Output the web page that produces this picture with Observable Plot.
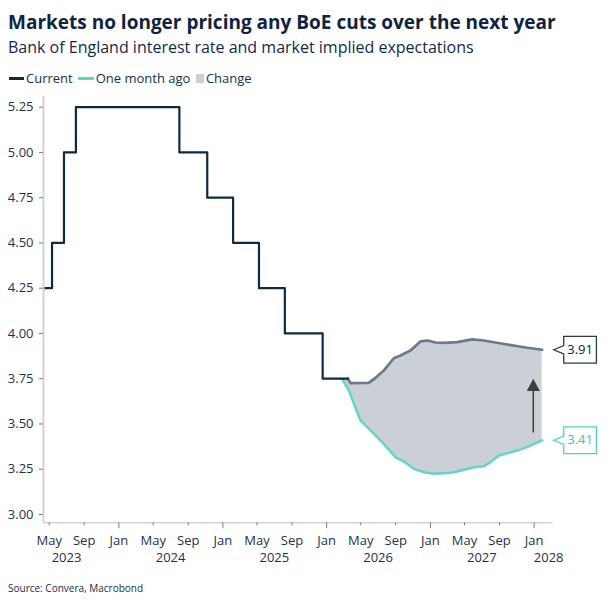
<!DOCTYPE html>
<html>
<head>
<meta charset="utf-8">
<script src="https://cdn.jsdelivr.net/npm/d3@7"></script>
<script src="https://cdn.jsdelivr.net/npm/@observablehq/plot@0.6"></script>
<style>
  body { margin: 0; background: #fff; font-family: "Open Sans", sans-serif; }
  #wrap { position: relative; width: 606px; height: 607px; overflow: hidden; background: #fff; }
  #wrap svg { position: absolute; left: 0; top: 0; }
  .txt { position: absolute; left: 8px; line-height: 1; white-space: nowrap; color: #0f2342; z-index: 2; }
  .title { top: 13px; font-size: 19px; font-weight: 700; }
  .subtitle { top: 38.5px; font-size: 16px; color: #13294a; }
  .legend { top: 72px; left: 8.5px; font-size: 13px; display: flex; align-items: center; color: #1a2b4c; }
  .legend .item { display: flex; align-items: center; margin-right: 5.5px; }
  .legend .line { width: 15.5px; height: 2.5px; margin-right: 2px; }
  .legend .sq { width: 8.5px; height: 8.5px; margin-right: 1.5px; }
  .source { top: 582.5px; font-size: 10px; color: #1a2b4c; }
</style>
</head>
<body>
<div id="wrap">
  <div class="txt title">Markets no longer pricing any BoE cuts over the next year</div>
  <div class="txt subtitle">Bank of England interest rate and market implied expectations</div>
  <div class="txt legend">
    <span class="item"><span class="line" style="background:#0d2a3e"></span>Current</span>
    <span class="item"><span class="line" style="background:#5fd6c6"></span>One month ago</span>
    <span class="item"><span class="sq" style="background:#cbcfd6"></span>Change</span>
  </div>
  <div class="txt source">Source: Convera, Macrobond</div>
</div>
<script>
// Bank Rate decisions (step changes) up to today
const policyDates = ["2023-04-12", "2023-05-11", "2023-06-22", "2023-08-03", "2024-08-01", "2024-11-07",
                     "2025-02-06", "2025-05-08", "2025-08-07", "2025-12-18", "2026-03-17"];
const policyRates = [4.25, 4.50, 5.00, 5.25, 5.00, 4.75, 4.50, 4.25, 4.00, 3.75, 3.75];

// Market-implied path, current pricing
const currentDates = ["2026-03-17", "2026-03-26", "2026-05-29", "2026-06-22", "2026-07-21", "2026-08-25",
                      "2026-09-18", "2026-10-23", "2026-11-27", "2026-12-21", "2027-01-19", "2027-02-21",
                      "2027-04-05", "2027-05-28", "2027-07-07", "2027-09-28", "2027-11-26", "2028-01-29"];
const currentRates = [3.75, 3.726, 3.727, 3.755, 3.795, 3.863, 3.878, 3.906, 3.956, 3.961, 3.950, 3.948,
                      3.952, 3.967, 3.961, 3.939, 3.924, 3.91];

// Market-implied path, one month ago
const monthAgoDates = ["2026-02-24", "2026-03-20", "2026-04-07", "2026-04-30", "2026-06-16", "2026-07-21",
                       "2026-08-31", "2026-09-24", "2026-11-04", "2026-12-09", "2027-01-13", "2027-03-13",
                       "2027-04-05", "2027-06-03", "2027-07-08", "2027-07-31", "2027-08-30", "2027-11-02",
                       "2027-12-07", "2028-01-29"];
const monthAgoRates = [3.75, 3.685, 3.611, 3.52, 3.446, 3.39, 3.316, 3.298, 3.252, 3.233, 3.225, 3.23,
                       3.237, 3.261, 3.267, 3.289, 3.326, 3.353, 3.372, 3.41];

// Axis ticks and labels
const yTicks = [3.00, 3.25, 3.50, 3.75, 4.00, 4.25, 4.50, 4.75, 5.00, 5.25];
const yearLabels = ["2023", "2024", "2025", "2026", "2027", "2028"];
const yearLabelDates = ["2023-07-01", "2024-07-01", "2025-07-01", "2026-07-01", "2027-07-01", "2028-02-21"];

// Arrow showing the repricing
const arrowDate = "2027-12-29";
const arrowFrom = 3.45;
const arrowTo = 3.75;

const xStart = "2023-04-11", xEnd = "2028-03-08";
const yMin = 2.954, yMax = 5.309;

const parse = d3.utcParse("%Y-%m-%d");
const toSeries = (dates, rates) => dates.map((d, i) => ({date: parse(d), rate: rates[i]}));
const policy = toSeries(policyDates, policyRates);
const current = toSeries(currentDates, currentRates);
const monthAgo = toSeries(monthAgoDates, monthAgoRates);

function interp(series, t) {
  const i = d3.bisector(d => d.date).right(series, t);
  if (i <= 0) return series[0].rate;
  if (i >= series.length) return series[series.length - 1].rate;
  const a = series[i - 1], b = series[i];
  return a.rate + (b.rate - a.rate) * (t - a.date) / (b.date - a.date);
}

// Shaded band between the two curves; the upper edge is the flat policy rate until current pricing begins
const upperEdge = [{date: monthAgo[0].date, rate: policy[policy.length - 1].rate}, ...current];
const bandTimes = Array.from(new Set([...monthAgo, ...current].map(d => +d.date)))
  .filter(t => t >= +monthAgo[0].date)
  .sort((a, b) => a - b);
const band = bandTimes.map(t => {
  const date = new Date(t);
  return {date, low: interp(monthAgo, date), high: interp(upperEdge, date)};
});

const lastCurrent = current[current.length - 1];
const lastMonthAgo = monthAgo[monthAgo.length - 1];
const callouts = [
  {date: lastCurrent.date, rate: lastCurrent.rate, stroke: "#2a3b4c", text: "#13233a"},
  {date: lastMonthAgo.date, rate: lastMonthAgo.rate, stroke: "#52d3c2", text: "#3cc6b4"}
];

// Label box with a pointer on its left side, anchored at the end of each curve
const calloutSymbol = {
  draw(ctx) {
    ctx.moveTo(11.6, 0);
    ctx.lineTo(21.6, -4.2);
    ctx.lineTo(21.6, -13.3);
    ctx.lineTo(54.3, -13.3);
    ctx.lineTo(54.3, 13.3);
    ctx.lineTo(21.6, 13.3);
    ctx.lineTo(21.6, 4.2);
    ctx.closePath();
  }
};
// Filled arrow head with its tip at the anchor
const arrowHead = {
  draw(ctx) {
    ctx.moveTo(0, 0);
    ctx.lineTo(6.6, 12.4);
    ctx.lineTo(-6.6, 12.4);
    ctx.closePath();
  }
};

const monthTicks = d3.utcMonth.every(4).range(parse("2023-04-12"), parse(xEnd));
const janTicks = monthTicks.filter(d => d.getUTCMonth() === 0);
const otherTicks = monthTicks.filter(d => d.getUTCMonth() !== 0);

const labelColor = "#1f2f50";
const tickColor = "#7a7a7a";
const axisLineColor = "#d3d3d3";

const chart = Plot.plot({
  width: 606,
  height: 607,
  marginLeft: 43,
  marginRight: 53.3,
  marginTop: 96,
  marginBottom: 84.7,
  style: {background: "transparent", fontFamily: "'Open Sans', sans-serif", fontSize: "13px", overflow: "visible"},
  x: {type: "utc", domain: [parse(xStart), parse(xEnd)], label: null},
  y: {domain: [yMin, yMax], label: null},
  marks: [
    Plot.areaY(band, {x: "date", y1: "low", y2: "high", fill: "#cbcfd6"}),
    Plot.line(monthAgo, {x: "date", y: "rate", stroke: "#5fd6c6", strokeWidth: 2.5}),
    Plot.line(current, {x: "date", y: "rate", stroke: "#6b7a89", strokeWidth: 2.7}),
    Plot.line(policy, {x: "date", y: "rate", curve: "step-after", stroke: "#0d2a3e", strokeWidth: 2.2}),
    Plot.ruleX([{date: parse(arrowDate)}], {x: "date", y1: arrowFrom, y2: arrowTo - 0.03, stroke: "#3f3f3f", strokeWidth: 1.5}),
    Plot.dot([{date: parse(arrowDate), rate: arrowTo}], {x: "date", y: "rate", symbol: arrowHead, fill: "#3f3f3f", stroke: "none"}),
    Plot.dot(callouts, {x: "date", y: "rate", symbol: calloutSymbol, fill: "white", stroke: d => d.stroke, strokeWidth: 1.3}),
    Plot.text(callouts, {x: "date", y: "rate", text: d => d3.format(".2f")(d.rate), fill: d => d.text, dx: 38, fontSize: 13}),
    Plot.ruleX([parse(xStart)], {stroke: axisLineColor, strokeWidth: 2}),
    Plot.ruleY([yMin], {stroke: axisLineColor, strokeWidth: 1.5}),
    Plot.axisY(yTicks, {tickSize: 4, tickPadding: 6, tickFormat: d3.format(".2f"), stroke: tickColor, fill: labelColor, label: null}),
    Plot.axisX(janTicks, {tickSize: 6, tickPadding: 6.8, tickFormat: d3.utcFormat("%b"), stroke: tickColor, fill: labelColor, label: null}),
    Plot.axisX(otherTicks, {tickSize: 3, tickPadding: 9.8, tickFormat: d3.utcFormat("%b"), stroke: tickColor, fill: labelColor, label: null}),
    Plot.text(yearLabels.map((t, i) => ({t, date: parse(yearLabelDates[i])})), {x: "date", text: "t", frameAnchor: "bottom", dy: 39, fill: labelColor})
  ]
});

document.getElementById("wrap").prepend(chart);
</script>
</body>
</html>
